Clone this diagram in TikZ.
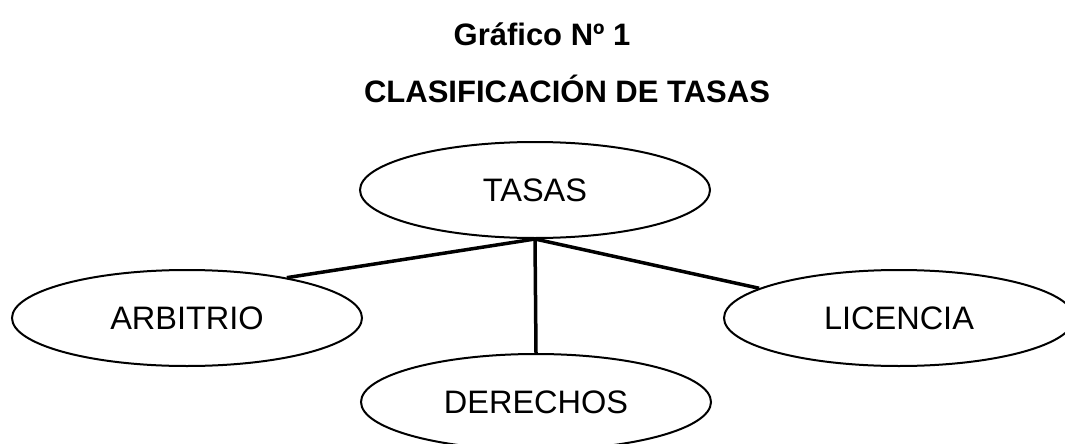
\documentclass[tikz,border=0pt]{standalone}
\usepackage{fontspec}
\setmainfont{Liberation Sans}
\usetikzlibrary{shapes.geometric}
\tikzset{bubble/.style={ellipse, draw, line width=2pt, minimum width=350pt, minimum height=96pt, inner sep=0pt, font=\fontsize{32.5}{38}\selectfont},
         heading/.style={font=\fontsize{31}{36}\selectfont\bfseries, inner sep=0pt},
         link/.style={line width=3.5pt}}

\begin{document}
\begin{tikzpicture}[x=1pt,y=-1pt]
   \useasboundingbox (0,0) rectangle (1065,444);
   \node[heading] (tit) at (542,34) {Gráfico Nº 1};
   \node[heading] (sub) at (567,89) {CLASIFICACIÓN DE TASAS};
   \node[bubble] (tasas) at (535,190) {TASAS};
   \node[bubble] (arb)   at (187,318) {ARBITRIO};
   \node[bubble] (der)   at (536,402) {DERECHOS};
   \node[bubble] (lic)   at (899,318) {LICENCIA};
   \draw[link] (tasas.south) -- (arb.22);
   \draw[link] (tasas.south) -- (der.north);
   \draw[link] (tasas.south) -- (lic.168);
\end{tikzpicture}
\end{document}
